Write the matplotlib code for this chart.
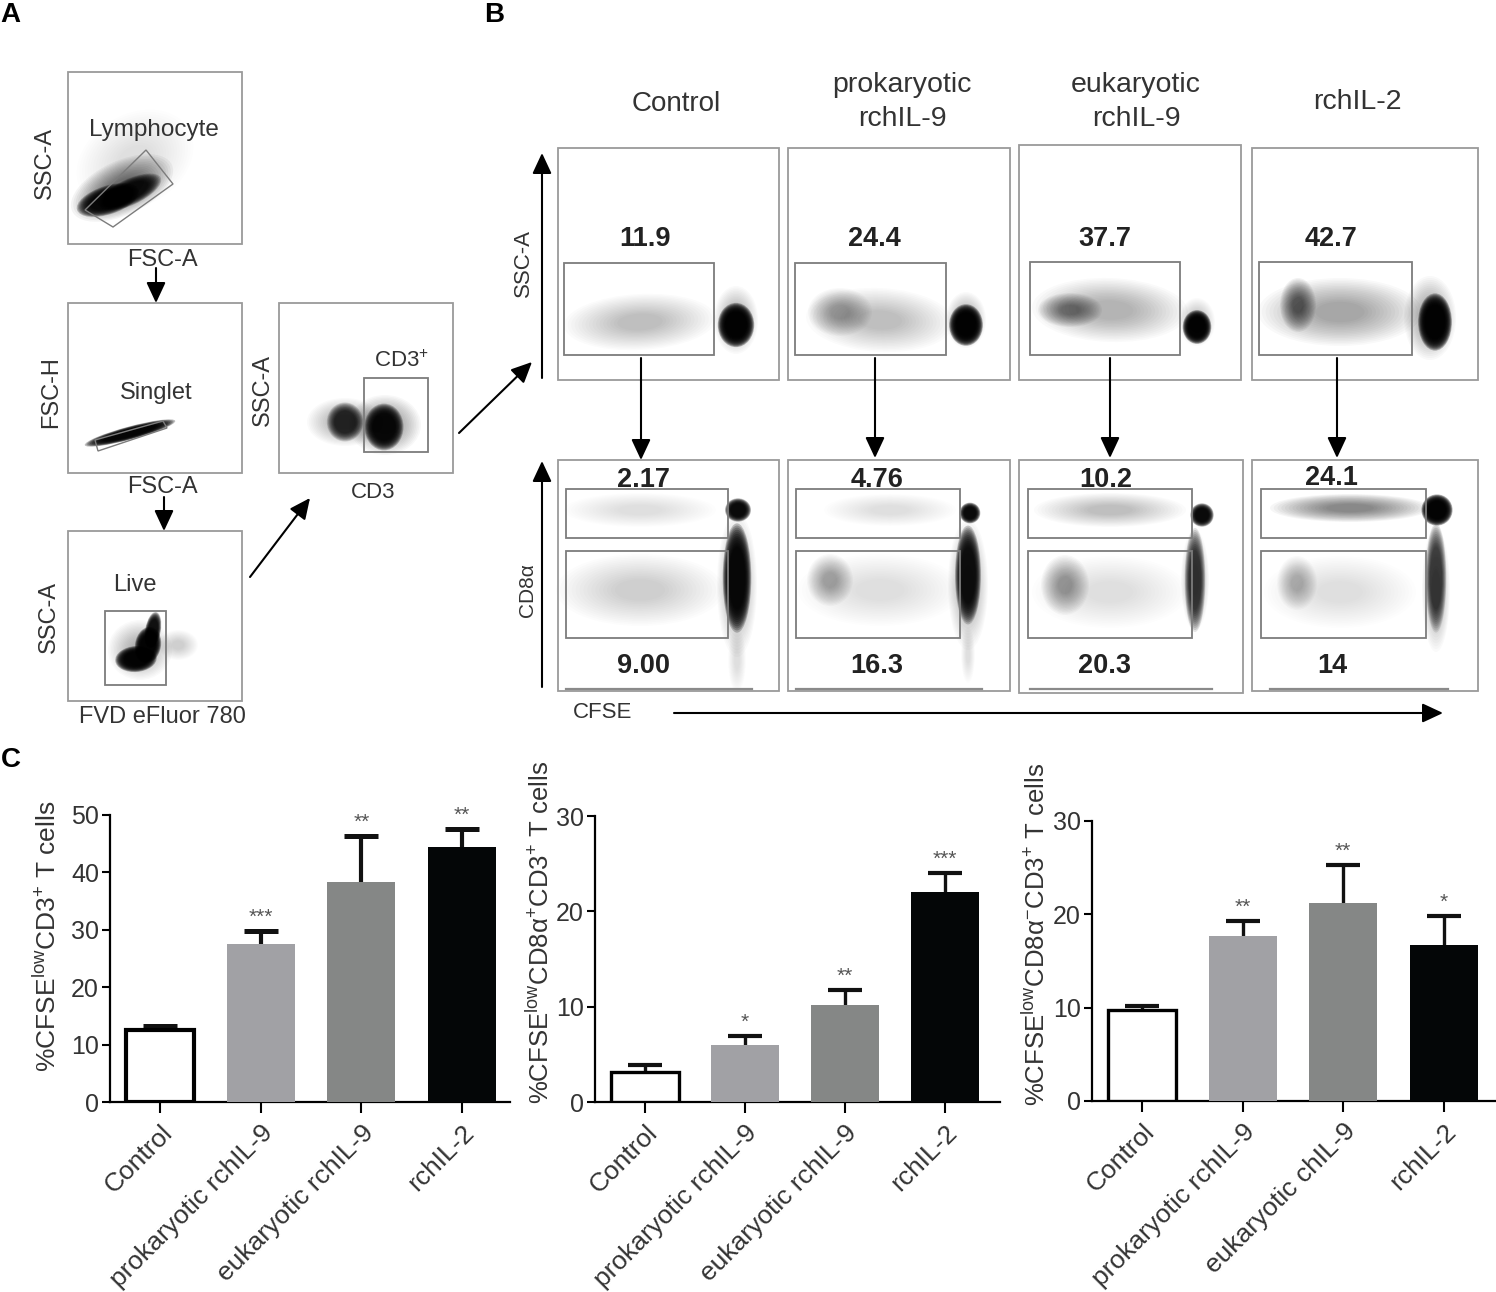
#!/usr/bin/env python3
import matplotlib

matplotlib.use("Agg")
import matplotlib.pyplot as plt
import numpy as np
from matplotlib.patches import Ellipse, Polygon, Rectangle
from matplotlib.transforms import Bbox, TransformedBbox

plt.rcParams["font.family"] = ["Liberation Sans", "DejaVu Sans"]
plt.rcParams["mathtext.fontset"] = "custom"
plt.rcParams["mathtext.rm"] = "Liberation Sans"
plt.rcParams["mathtext.default"] = "regular"

W, H = 1496, 1292

# bar panels (C)
GROUPS_1 = ["Control", "prokaryotic rchIL-9", "eukaryotic rchIL-9", "rchIL-2"]
GROUPS_3 = ["Control", "prokaryotic rchIL-9", "eukaryotic chIL-9", "rchIL-2"]
ALL_CELLS = [12.5, 27.5, 38.3, 44.5]
ALL_TOPS = [13.3, 29.8, 46.3, 47.5]
ALL_STARS = ["", "***", "**", "**"]
CD8P_CELLS = [3.1, 6.0, 10.2, 22.0]
CD8P_TOPS = [3.9, 6.9, 11.8, 24.0]
CD8P_STARS = ["", "*", "**", "***"]
CD8N_CELLS = [9.7, 17.7, 21.2, 16.7]
CD8N_TOPS = [10.2, 19.3, 25.3, 19.8]
CD8N_STARS = ["", "**", "**", "*"]
BAR_COLORS = ["white", "#a1a1a5", "#858786", "#040607"]

# flow frames: x0, y0, x1, y1 in picture pixels
FRAMES = [
    (68, 72, 242, 244), (68, 303, 242, 473), (68, 531, 242, 701), (279, 303, 453, 473),
    (558, 148, 779, 380), (788, 148, 1010, 380), (1019, 145, 1241, 380), (1252, 148, 1478, 380),
    (558, 460, 779, 691), (788, 460, 1010, 691), (1019, 460, 1243, 693), (1252, 460, 1478, 691),
]
GATES = [
    (364, 378, 428, 452), (105, 611, 166, 685),
    (564, 263, 714, 355), (795, 263, 946, 355), (1030, 262, 1180, 355), (1259, 262, 1412, 355),
    (566, 489, 728, 538), (796, 489, 960, 538), (1028, 489, 1192, 538), (1261, 489, 1426, 538),
    (566, 551, 728, 638), (796, 551, 960, 638), (1028, 551, 1192, 638), (1261, 551, 1426, 638),
]
LYMPH_GATE = [(146, 150), (173, 184), (113, 227), (85, 210)]
SINGLET_GATE = [(95, 440), (163, 421), (167, 428), (98, 451)]
BASELINES = [(566, 752), (796, 982), (1030, 1212), (1270, 1448)]

# cell clouds: cx, cy, rx, ry, angle, strength
CLOUDS_A = [
    (135, 160, 62, 46, -30, 0.10), (122, 188, 55, 27, -25, 0.50), (108, 200, 25, 11, -18, 0.95),
    (130, 192, 26, 10, -25, 0.90),
    (130, 433, 36, 5, -15, 0.97), (178, 645, 20, 15, 0, 0.16), (140, 650, 32, 30, 0, 0.25),
    (136, 659, 16, 10, -5, 0.97), (148, 645, 10, 14, 10, 0.97), (153, 630, 6, 14, 10, 0.93),
    (345, 422, 38, 24, 0, 0.25), (345, 422, 14, 15, 0, 0.80),
    (385, 425, 36, 30, 0, 0.35), (384, 427, 15, 18, 0, 0.95),
]
CLOUDS_B_TOP = [
    (640, 322, 76, 28, -3, 0.20), (736, 320, 22, 34, 0, 0.25), (736, 325, 14, 17, 0, 0.98),
    (880, 320, 74, 32, 3, 0.22), (840, 312, 32, 24, 0, 0.32), (966, 320, 20, 28, 0, 0.25),
    (966, 325, 13, 16, 0, 0.98),
    (1110, 310, 78, 32, 2, 0.25), (1070, 310, 32, 17, 0, 0.48), (1197, 322, 18, 24, 0, 0.22),
    (1197, 327, 11, 13, 0, 0.98),
    (1340, 312, 82, 34, 0, 0.30), (1298, 305, 18, 27, 0, 0.58), (1430, 318, 26, 42, 0, 0.30),
    (1435, 322, 13, 22, 0, 0.98),
]
CLOUDS_B_BOTTOM = [
    (640, 510, 76, 17, 0, 0.14), (640, 590, 84, 36, 0, 0.16), (737, 660, 9, 32, 0, 0.14),
    (737, 585, 20, 72, 0, 0.25), (737, 578, 11, 42, 0, 0.95), (738, 510, 10, 9, 0, 0.95),
    (890, 510, 66, 16, 0, 0.14), (880, 590, 82, 36, 0, 0.13), (830, 580, 23, 26, 0, 0.32),
    (968, 655, 7, 28, 0, 0.12), (968, 585, 20, 65, 0, 0.25), (968, 575, 10, 38, 0, 0.92),
    (970, 513, 8, 8, 0, 0.95),
    (1110, 510, 76, 17, 0, 0.24), (1110, 592, 78, 36, 0, 0.13), (1065, 585, 24, 30, 0, 0.36),
    (1195, 580, 14, 50, 0, 0.25), (1195, 580, 8, 40, 0, 0.72), (1202, 515, 9, 9, 0, 0.95),
    (1350, 508, 80, 14, 0, 0.42), (1340, 592, 76, 36, 0, 0.11), (1297, 583, 20, 27, 0, 0.28),
    (1436, 590, 14, 62, 0, 0.25), (1436, 578, 8, 42, 0, 0.70), (1437, 510, 12, 12, 0, 0.98),
]

# text: label, x, y, size, rotation
PLAIN_LABELS = [
    ("SSC-A", 45, 163, 17, 90), ("FSC-A", 162, 260, 17, 0), ("Lymphocyte", 154, 130, 17.5, 0),
    ("FSC-H", 51, 392, 17, 90), ("Singlet", 156, 393, 17, 0), ("FSC-A", 162, 487, 17, 0),
    ("SSC-A", 49, 617, 17, 90), ("Live", 135, 585, 17, 0), ("FVD eFluor 780", 162, 717, 17, 0),
    ("SSC-A", 263, 390, 17, 90), ("CD3$^{+}$", 401, 361, 16, 0), ("CD3", 373, 493, 16, 0),
    ("Control", 676, 104, 20, 0), ("prokaryotic", 902, 85, 20.5, 0), ("rchIL-9", 902, 119, 20.5, 0),
    ("eukaryotic", 1136, 85, 20.5, 0), ("rchIL-9", 1136, 119, 20.5, 0), ("rchIL-2", 1357, 102, 20.5, 0),
    ("SSC-A", 523, 263, 16, 90), ("CD8α", 528, 590, 15, 90), ("CFSE", 603, 712, 16, 0),
]
TOP_VALUES = [("11.9", 645, 239), ("24.4", 874, 239), ("37.7", 1105, 239), ("42.7", 1331, 239)]
MID_VALUES = [("2.17", 644, 480), ("4.76", 877, 480), ("10.2", 1106, 480), ("24.1", 1331, 478)]
LOW_VALUES = [("9.00", 644, 666), ("16.3", 877, 666), ("20.3", 1105, 666), ("14", 1332, 666)]
LETTERS = [("A", 10, 15), ("B", 494, 15), ("C", 11, 760)]
YLABELS = [
    ("%CFSE$^{low}$CD3$^{+}$ T cells", 47, 936, 19),
    ("%CFSE$^{low}$CD8α$^{+}$CD3$^{+}$ T cells", 540, 932, 18.5),
    ("%CFSE$^{low}$CD8α$^{-}$CD3$^{+}$ T cells", 1036, 934, 18.5),
]

ARROWS = [
    ((156, 268), (156, 303)), ((164, 497), (164, 531)), ((250, 577), (310, 498)),
    ((459, 433), (532, 362)), ((542, 378), (542, 153)), ((542, 687), (542, 461)),
    ((674, 713), (1443, 713)), ((641, 358), (641, 460)), ((875, 358), (875, 458)),
    ((1110, 358), (1110, 458)), ((1337, 358), (1337, 458)),
]


def draw_cloud(ax, cloud):
    # stacked ellipses give the soft edge of a cell population
    cx, cy, rx, ry, angle, strength = cloud
    scales = np.linspace(1.3, 0.75, 12) if strength >= 0.7 else np.linspace(1.0, 0.3, 16)
    alpha = 1 - (1 - strength) ** (1 / len(scales))
    for scale in scales:
        ax.add_patch(
            Ellipse((cx, cy), 2 * rx * scale, 2 * ry * scale, angle=angle, facecolor="black",
                    edgecolor="none", alpha=alpha, zorder=2)
        )


def draw_bars(fig, box, xlim, ylim, yticks, groups, means, tops, stars, edge_lw):
    left, top, right, bottom = box
    ax = fig.add_axes([left / W, 1 - bottom / H, (right - left) / W, (bottom - top) / H])
    x = list(range(len(groups)))
    for i in x:
        is_open = BAR_COLORS[i] == "white"
        ax.vlines(i, means[i], tops[i], color="#111111", linewidth=edge_lw, zorder=2)
        ax.hlines(tops[i], i - 0.17, i + 0.17, color="#111111", linewidth=edge_lw + 0.6, zorder=2)
        ax.bar(i, means[i], 0.68, color=BAR_COLORS[i], edgecolor="black" if is_open else BAR_COLORS[i],
               linewidth=edge_lw if is_open else 0, zorder=3)
        if stars[i]:
            ax.annotate(stars[i], (i, tops[i]), xytext=(0, 3), textcoords="offset points", ha="center",
                        va="bottom", fontsize=15, color="#555555", linespacing=1)
    ax.set_xlim(*xlim)
    ax.set_ylim(*ylim)
    ax.set_yticks(yticks)
    ax.set_xticks(x)
    ax.set_xticklabels(groups, rotation=45, ha="right", rotation_mode="anchor", fontsize=19, color="#333333")
    ax.tick_params(axis="y", labelsize=18, labelcolor="#333333", length=6, width=1.5, pad=2)
    ax.tick_params(axis="x", length=8, width=1.5, pad=5)
    ax.patch.set_alpha(0)
    for side in ["top", "right"]:
        ax.spines[side].set_visible(False)
    for side in ["left", "bottom"]:
        ax.spines[side].set_linewidth(1.6)
    return ax


def main():
    fig = plt.figure(figsize=(W / 100, H / 100), dpi=100)
    ov = fig.add_axes([0, 0, 1, 1])
    ov.set_xlim(0, W)
    ov.set_ylim(H, 0)
    ov.axis("off")

    for cloud in CLOUDS_A + CLOUDS_B_TOP + CLOUDS_B_BOTTOM:
        draw_cloud(ov, cloud)

    for x0, y0, x1, y1 in FRAMES:
        ov.add_patch(Rectangle((x0, y0), x1 - x0, y1 - y0, fill=False, edgecolor="#9a9a9a", linewidth=1.3, zorder=3))
    for x0, y0, x1, y1 in GATES:
        ov.add_patch(Rectangle((x0, y0), x1 - x0, y1 - y0, fill=False, edgecolor="#7c7c7c", linewidth=1.3, zorder=4))
    for gate in [LYMPH_GATE, SINGLET_GATE]:
        ov.add_patch(Polygon(gate, closed=True, fill=False, edgecolor="#7c7c7c", linewidth=1.0, zorder=4))
    for x0, x1 in BASELINES:
        ov.plot([x0, x1], [689, 689], color="#8a8a8a", linewidth=1.6, zorder=3)

    for label, x, y, size, rot in PLAIN_LABELS:
        ov.text(x, y, label, fontsize=size, rotation=rot, ha="center", va="center", color="#333333", zorder=6)
    for label, x, y in TOP_VALUES + LOW_VALUES:
        ov.text(x, y, label, fontsize=19.5, fontweight="bold", ha="center", va="center", color="#222222", zorder=6)
    for label, x, y in MID_VALUES:
        t = ov.text(x, y, label, fontsize=19.5, fontweight="bold", ha="center", va="center", color="#222222", zorder=6)
        # the gate cuts the lower edge of these numbers
        t.set_clip_box(TransformedBbox(Bbox([[x - 60, 461], [x + 60, 489]]), ov.transData))
        t.set_clip_on(True)
    for label, x, y in LETTERS:
        ov.text(x, y, label, fontsize=20, fontweight="bold", ha="center", va="center", color="black")
    for label, x, y, size in YLABELS:
        ov.text(x, y, label, fontsize=size, rotation=90, ha="center", va="center", color="#333333")

    for start, end in ARROWS:
        ov.annotate("", xy=end, xytext=start,
                    arrowprops=dict(arrowstyle="-|>,head_length=0.9,head_width=0.42", color="black", lw=1.5,
                                    shrinkA=0, shrinkB=0, mutation_scale=14), zorder=7)

    draw_bars(fig, (110, 815, 510, 1102), (-0.5, 3.48), (0, 50), [0, 10, 20, 30, 40, 50],
              GROUPS_1, ALL_CELLS, ALL_TOPS, ALL_STARS, 3.0)
    draw_bars(fig, (595, 816, 1000, 1102), (-0.5, 3.55), (0, 30), [0, 10, 20, 30],
              GROUPS_1, CD8P_CELLS, CD8P_TOPS, CD8P_STARS, 2.4)
    draw_bars(fig, (1092, 821, 1496, 1101), (-0.5, 3.52), (0, 30), [0, 10, 20, 30],
              GROUPS_3, CD8N_CELLS, CD8N_TOPS, CD8N_STARS, 2.4)

    fig.savefig("out.png", dpi=100)
    plt.close(fig)


if __name__ == "__main__":
    main()
